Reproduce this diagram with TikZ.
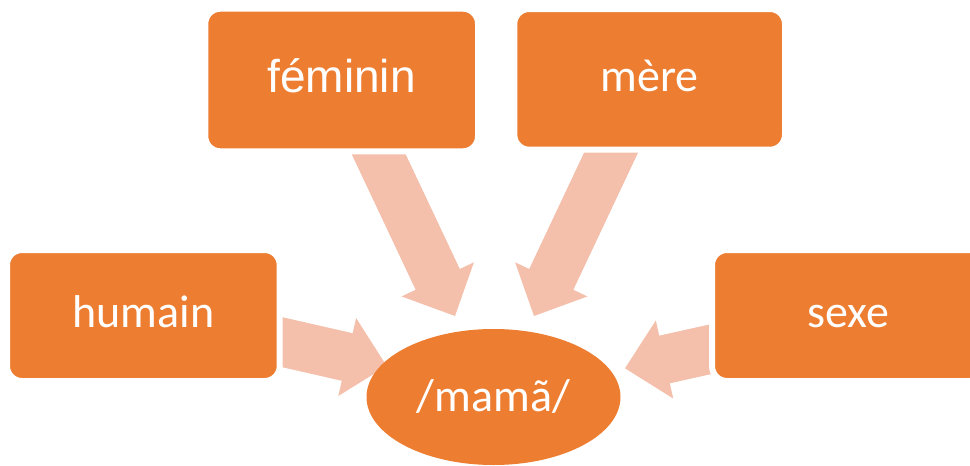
\documentclass[tikz,border=0pt]{standalone}
\usepackage{fontspec}
\setmainfont{Carlito}
\newfontfamily\arialfont{Liberation Sans}
\usepackage{xcolor}
\usetikzlibrary{arrows.meta,shapes.geometric,backgrounds,calc}

\definecolor{boxorange}{HTML}{ED7D31}
\definecolor{arrowpeach}{HTML}{F4C0AC}

\begin{document}
\begin{tikzpicture}[x=1pt, y=-1pt,
  box/.style={rectangle, rounded corners=15pt, fill=boxorange, draw=white,
    line width=6pt, text=white, text height=30pt, text depth=6pt,
    font=\fontsize{46}{52}\selectfont},
  hub/.style={ellipse, fill=boxorange, inner sep=0pt, minimum width=254pt,
    minimum height=136pt, text=white, font=\fontsize{46}{52}\selectfont},
  shaft/.style={arrowpeach, line width=48.5pt},
  feed/.style={shaft, -{Triangle[length=40.5pt, width=80pt, line width=0pt]}}]
  \useasboundingbox (0,0) rectangle (970,466);

  % Word boxes
  \node[box, minimum width=272.7pt, minimum height=142.6pt] (feminin) at (341.65,80) {\arialfont féminin};
  \node[box, minimum width=270.7pt, minimum height=140.7pt] (mere) at (649.65,79.35) {mère};
  \node[box, minimum width=272.7pt, minimum height=131pt] (humain) at (143.35,315.5) {humain};
  \node[box, minimum width=272.7pt, minimum height=131pt] (sexe) at (848.35,315.5) {sexe};

  % Centre
  \node[hub] (mama) at (493.5,397) {/mamã/};

  % Block arrows (behind the boxes)
  \coordinate (tailF) at ([xshift=2pt]feminin.center);
  \coordinate (tailM) at ([xshift=-4pt]mere.center);
  \coordinate (tailH) at ([yshift=5pt]humain.center);
  \coordinate (tailS) at ([yshift=-3pt]sexe.center);
  \coordinate (tipF) at (455,316);
  \coordinate (tipM) at (534,316);
  \coordinate (tipH) at (386.7,366);
  \coordinate (tipS) at (625,368.3);
  \begin{scope}[on background layer]
    \foreach \i in {F,M,H,S} {
      \draw[feed] (tail\i) -- (tip\i);
      \draw[shaft] (tail\i) -- ($(tip\i)!25pt!(tail\i)$);
    }
  \end{scope}
\end{tikzpicture}
\end{document}
